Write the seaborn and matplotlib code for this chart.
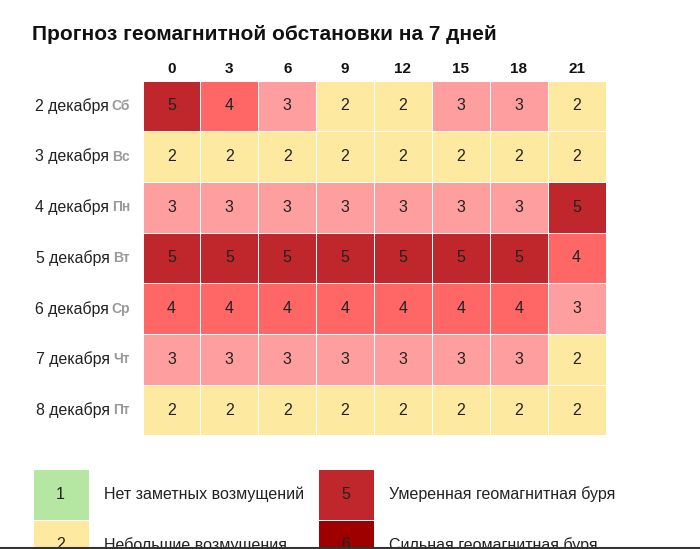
import numpy as np
import pandas as pd
import seaborn as sns
import matplotlib
matplotlib.use("Agg")
import matplotlib.pyplot as plt
from matplotlib.colors import ListedColormap
from matplotlib.lines import Line2D

# ---- data ----
title = "Прогноз геомагнитной обстановки на 7 дней"
hours = ["0", "3", "6", "9", "12", "15", "18", "21"]
dates = ["2 декабря", "3 декабря", "4 декабря", "5 декабря",
         "6 декабря", "7 декабря", "8 декабря"]
weekdays = ["Сб", "Вс", "Пн", "Вт", "Ср", "Чт", "Пт"]
kp = [
    [5, 4, 3, 2, 2, 3, 3, 2],
    [2, 2, 2, 2, 2, 2, 2, 2],
    [3, 3, 3, 3, 3, 3, 3, 5],
    [5, 5, 5, 5, 5, 5, 5, 4],
    [4, 4, 4, 4, 4, 4, 4, 3],
    [3, 3, 3, 3, 3, 3, 3, 2],
    [2, 2, 2, 2, 2, 2, 2, 2],
]
legend_left_vals = [1, 2]
legend_left_text = ["Нет заметных возмущений", "Небольшие возмущения"]
legend_right_vals = [5, 6]
legend_right_text = ["Умеренная геомагнитная буря", "Сильная геомагнитная буря"]

level_colors = ["#b5e6a2", "#fee9a0", "#ff9e9e", "#ff6666", "#c0272d", "#9e0000"]

plt.rcParams["font.family"] = ["Liberation Sans", "DejaVu Sans"]

W, H = 700, 549
fig = plt.figure(figsize=(W / 100, H / 100), dpi=100)
fig.patch.set_facecolor("white")

def ax_at(x0, y0, x1, y1):
    return fig.add_axes([x0 / W, 1 - y1 / H, (x1 - x0) / W, (y1 - y0) / H])

cmap = ListedColormap(level_colors)
df = pd.DataFrame(kp, index=dates, columns=hours)

ax = ax_at(142.5, 80.5, 605.5, 435.5)
sns.heatmap(df, ax=ax, cmap=cmap, vmin=0.5, vmax=6.5, cbar=False,
            linewidths=0.6, linecolor="white", annot=True, fmt="d",
            annot_kws={"fontsize": 11.5, "color": "#222222"})
ax.xaxis.tick_top()
ax.tick_params(axis="both", length=0)
ax.set_xticklabels(hours, fontsize=11, fontweight="bold", color="#111111")
ax.tick_params(axis="x", pad=3.5)
ax.set_yticklabels([])
ax.set_xlabel("")
ax.set_ylabel("")

# row labels: date + weekday (grey bold)
wd_texts = []
for i, wd in enumerate(weekdays):
    t = ax.annotate(wd, xy=(0, i + 0.5), xycoords=("axes fraction", "data"),
                    xytext=(-9, 0), textcoords="offset points",
                    ha="right", va="center", fontsize=10, fontweight="bold",
                    color="#999999")
    wd_texts.append(t)
fig.canvas.draw()
renderer = fig.canvas.get_renderer()
for i, (d, t) in enumerate(zip(dates, wd_texts)):
    bb = t.get_window_extent(renderer)
    xl = bb.x0 - 3
    ymid = ax.transData.transform((0, i + 0.5))[1]
    fig.text(xl / W, ymid / H, d, ha="right", va="center", fontsize=11.4,
             color="#222222")

fig.text(32 / W, 1 - 34 / H, title, ha="left", va="center", fontsize=15,
         fontweight="bold", color="#111111")

# legend blocks
def legend_block(x0, vals, texts):
    lax = ax_at(x0, 469, x0 + 56, 469 + 50.5 * len(vals))
    ldf = pd.DataFrame({"v": vals})
    sns.heatmap(ldf, ax=lax, cmap=cmap, vmin=0.5, vmax=6.5, cbar=False,
                linewidths=0.6, linecolor="white", annot=True, fmt="d",
                annot_kws={"fontsize": 11.5, "color": "#222222"})
    lax.set_xticks([]); lax.set_yticks([])
    lax.set_xlabel(""); lax.set_ylabel("")
    for i, s in enumerate(texts):
        lax.annotate(s, xy=(1, i + 0.5), xycoords=("axes fraction", "data"),
                     xytext=(11.5, 0), textcoords="offset points",
                     ha="left", va="center", fontsize=11.5, color="#222222")

legend_block(32.5, legend_left_vals, legend_left_text)
legend_block(317.5, legend_right_vals, legend_right_text)

fig.add_artist(Line2D([0, 1], [0.7 / H, 0.7 / H], transform=fig.transFigure,
                      color="#333333", lw=1.5))

fig.savefig("out.png", dpi=100)
